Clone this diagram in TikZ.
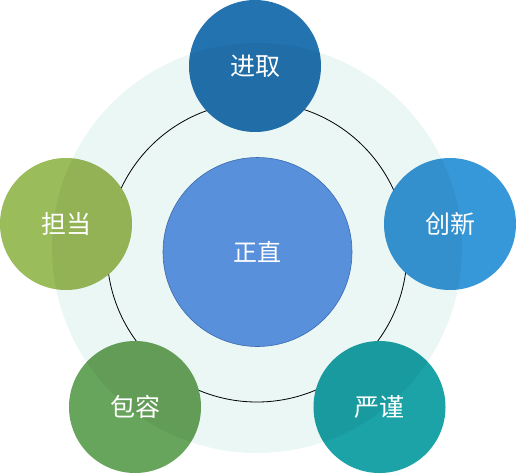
\documentclass[tikz,border=0pt]{standalone}
\usepackage{fontspec}
\newfontfamily\cjk{Noto Sans CJK SC}
\definecolor{bgring}{HTML}{EAF7F5}
\definecolor{cjinqu}{HTML}{2373B0}
\definecolor{cchuang}{HTML}{3698D9}
\definecolor{cdan}{HTML}{9BBC5A}
\definecolor{cbao}{HTML}{68A55C}
\definecolor{cyan2}{HTML}{1BA3A8}
\definecolor{ccenter}{HTML}{5890DB}
\definecolor{ccenterb}{HTML}{3B6BAD}
\tikzset{
  sat/.style={circle, minimum size=132pt, inner sep=0pt, text=white, font=\cjk\fontsize{25pt}{28pt}\selectfont},
  hub/.style={circle, minimum size=189pt, inner sep=0pt, fill=ccenter, draw=ccenterb, line width=0.6pt, text=white, font=\cjk\fontsize{24pt}{28pt}\selectfont},
}
\begin{document}
\begin{tikzpicture}[x=1pt,y=-1pt]
\useasboundingbox (0,0) rectangle (516,474);
\fill[bgring] (257,248) circle (205);
\draw[black, line width=0.8pt] (257,252) circle (150);
\node[hub] (c) at (257.5,252) {正直};
\node[sat, fill=cjinqu] (a) at (255,66) {};
\node[sat, fill=cchuang] (b) at (450,224) {};
\node[sat, fill=cdan] (d) at (66,224) {};
\node[sat, fill=cbao] (e) at (135,407) {};
\node[sat, fill=cyan2] (f) at (379.5,407) {};
\begin{scope}
  \clip (257,248) circle (205);
  \foreach \n in {a,b,d,e,f} {\fill[black, opacity=0.05] (\n.center) circle (66);}
\end{scope}
\node[sat] at (a) {进取};
\node[sat] at (b) {创新};
\node[sat] at (d) {担当};
\node[sat] at (e) {包容};
\node[sat] at (f) {严谨};
\end{tikzpicture}
\end{document}
